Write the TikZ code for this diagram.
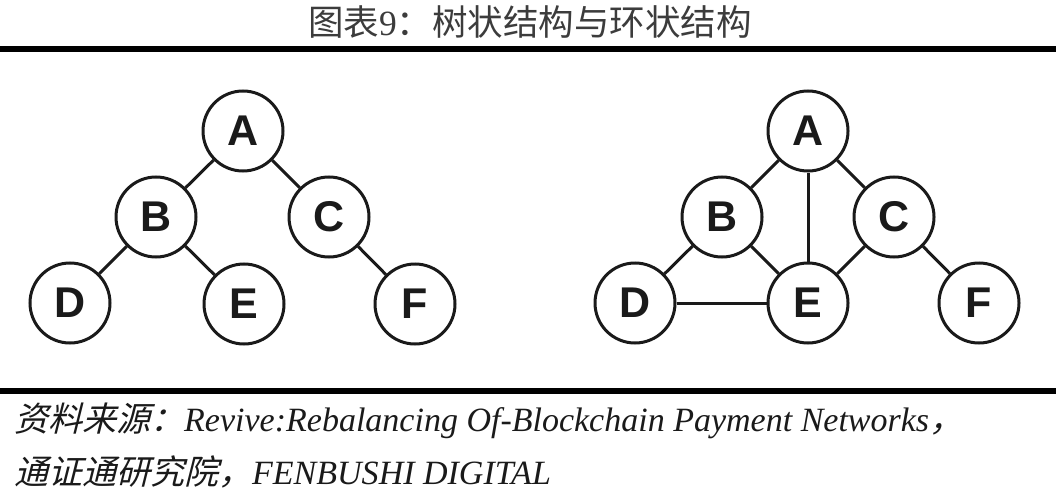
\documentclass[tikz,border=0pt]{standalone}
\usepackage{fontspec}
\setmainfont{Liberation Serif}
\newfontfamily\cjk{Noto Sans CJK SC}
\newfontfamily\cjkit{Noto Sans CJK SC}[FakeSlant=0.25]
\newfontfamily\lbl{Liberation Sans}
\definecolor{ink}{HTML}{1A1A1A}
\begin{document}
\begin{tikzpicture}[x=1pt,y=-1pt,
  vtx/.style={circle, draw=ink, line width=3pt, minimum size=80pt, inner sep=0pt, text=ink,
    font=\lbl\bfseries\fontsize{43}{43}\selectfont},
  link/.style={draw=ink, line width=3pt},
  rulebar/.style={fill=black},
  caption/.style={inner sep=0pt, text=ink, font=\fontsize{34}{40}\selectfont},
  heading/.style={inner sep=0pt, text=ink!85, font=\fontsize{35.5}{40}\selectfont}]
\useasboundingbox (0,0) rectangle (1056,497);
\fill[white] (0,0) rectangle (1056,497);
% title
\node[heading] (title) at (530,22) {{\cjk 图表}9{\cjk ：树状结构与环状结构}};
% rules
\fill[rulebar] (0,46.5) rectangle (1056,52.5);
\fill[rulebar] (0,388) rectangle (1056,394);
% tree structure
\node[vtx] (A1) at (243,131) {A};
\node[vtx] (B1) at (156,217) {B};
\node[vtx] (C1) at (329,217) {C};
\node[vtx] (D1) at (70,303) {D};
\node[vtx] (E1) at (244,304) {E};
\node[vtx] (F1) at (415,304) {F};
\draw[link] (A1) -- (B1);
\draw[link] (A1) -- (C1);
\draw[link] (B1) -- (D1);
\draw[link] (B1) -- (E1);
\draw[link] (C1) -- (F1);
% ring structure
\node[vtx] (A2) at (808,131) {A};
\node[vtx] (B2) at (722,217) {B};
\node[vtx] (C2) at (894,217) {C};
\node[vtx] (D2) at (635,303) {D};
\node[vtx] (E2) at (808,303) {E};
\node[vtx] (F2) at (979,303) {F};
\draw[link] (A2) -- (B2);
\draw[link] (A2) -- (C2);
\draw[link] (A2) -- (E2);
\draw[link] (B2) -- (D2);
\draw[link] (B2) -- (E2);
\draw[link] (C2) -- (E2);
\draw[link] (C2) -- (F2);
\draw[link] (D2) -- (E2);
% source
\node[caption, anchor=west] (src1) at (14,421) {{\cjkit 资料来源：}\textit{Revive:Rebalancing Of-Blockchain Payment Networks}{\cjkit ，}};
\node[caption, anchor=west] (src2) at (14,472) {{\cjkit 通证通研究院，}\textit{FENBUSHI DIGITAL}};
\end{tikzpicture}
\end{document}
